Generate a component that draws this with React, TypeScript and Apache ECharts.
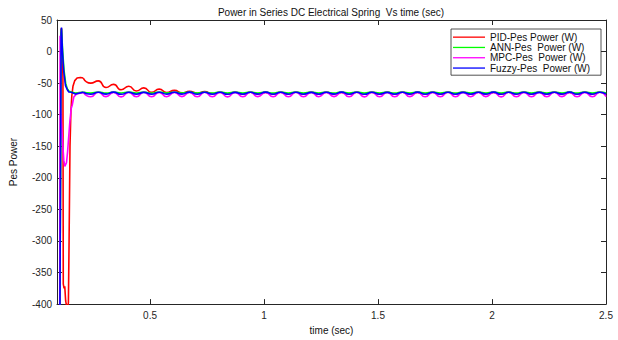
import React, { useEffect, useRef } from "react";
import * as echarts from "echarts";

const seriesNames = ["PID-Pes Power (W)", "ANN-Pes  Power (W)", "MPC-Pes  Power (W)", "Fuzzy-Pes  Power (W)"];
const seriesColors = ["#ff0000", "#00ff00", "#ff00ff", "#0000ff"];
const xTickValues = [0.5, 1, 1.5, 2, 2.5];
const titleText = "Power in Series DC Electrical Spring  Vs time (sec)";

// start-up transients (time in s, power in W)
const pidStartT = [0.1045, 0.11, 0.1117, 0.115, 0.118, 0.1195, 0.123, 0.126, 0.13, 0.134, 0.139, 0.142, 0.145, 0.149, 0.153, 0.157, 0.162, 0.17, 0.18, 0.195, 0.207];
const pidStartV = [-450, 35, 37, 5, -40, -368, -375, -372, -395, -403, -404, -398, -300, -150, -95, -70, -55, -46, -42, -41, -42];
const annStartT = [0.1045, 0.11, 0.1117, 0.117, 0.123, 0.13, 0.137, 0.145, 0.155, 0.173, 0.207];
const annStartV = [-450, 28, 36, 0, -30, -50, -59, -63, -64.2, -65.8, -64.2];
const mpcStartT = [0.1038, 0.1055, 0.1074, 0.1161, 0.1218, 0.1262, 0.1337, 0.1381, 0.1481, 0.1543, 0.1587, 0.1657, 0.1776, 0.207];
const mpcStartV = [-450, 25, -90, -140, -172, -182, -176, -160, -112, -90, -85, -72, -67, -64.6];
const fuzzyStartT = [0.1043, 0.11, 0.1117, 0.1161, 0.1218, 0.1293, 0.1367, 0.1438, 0.155, 0.173, 0.207];
const fuzzyStartV = [-450, 30, 38, -1, -32, -54, -60, -64, -64.4, -67.2, -64.4];

// ripple samples (peaks and troughs) after the transient
const tRipple = [
  0.207, 0.24, 0.273, 0.307, 0.34, 0.373, 0.407, 0.44, 0.473, 0.507,
  0.54, 0.573, 0.607, 0.64, 0.673, 0.707, 0.74, 0.773, 0.807, 0.84,
  0.873, 0.907, 0.94, 0.973, 1.007, 1.04, 1.073, 1.107, 1.14, 1.173,
  1.207, 1.24, 1.273, 1.307, 1.34, 1.373, 1.407, 1.44, 1.473, 1.507,
  1.54, 1.573, 1.607, 1.64, 1.673, 1.707, 1.74, 1.773, 1.807, 1.84,
  1.873, 1.907, 1.94, 1.973, 2.007, 2.04, 2.073, 2.107, 2.14, 2.173,
  2.207, 2.24, 2.273, 2.307, 2.34, 2.373, 2.407, 2.44, 2.473, 2.5,
];
const pidRipple = [
  -42, -50, -46.5, -57, -52, -60.5, -55, -62.5, -57.5, -64.5,
  -59.5, -65, -61.5, -65.5, -63, -66, -63.5, -66.5, -64.5, -67,
  -64.4, -67.1, -64.5, -67, -64.6, -67, -64.5, -67.2, -64.4, -67,
  -64.5, -67.1, -64.5, -67, -64.6, -67, -64.5, -67.1, -64.4, -67,
  -64.5, -67.2, -64.5, -67, -64.6, -67, -64.5, -67.1, -64.4, -67,
  -64.5, -67, -64.5, -67.1, -64.6, -67, -64.5, -67.2, -64.4, -67,
  -64.5, -67.1, -64.5, -67, -64.6, -67, -64.5, -67.1, -64.4, -66.8,
];
const annRipple = [
  -64.2, -65.8, -64.1, -65.9, -64.2, -65.7, -64.3, -65.8, -64.2, -65.9,
  -64.1, -65.8, -64.2, -65.7, -64.3, -65.8, -64.2, -65.9, -64.1, -65.8,
  -64.2, -65.8, -64.3, -65.7, -64.2, -65.9, -64.1, -65.8, -64.2, -65.8,
  -64.3, -65.7, -64.2, -65.9, -64.1, -65.8, -64.2, -65.8, -64.3, -65.7,
  -64.2, -65.9, -64.1, -65.8, -64.2, -65.8, -64.3, -65.7, -64.2, -65.9,
  -64.1, -65.8, -64.2, -65.8, -64.3, -65.7, -64.2, -65.9, -64.1, -65.8,
  -64.2, -65.8, -64.3, -65.7, -64.2, -65.9, -64.1, -65.8, -64.2, -65.6,
];
const mpcRipple = [
  -64.6, -71.6, -64.5, -71.4, -64.7, -71.7, -64.6, -71.5, -64.5, -71.6,
  -64.6, -71.5, -64.7, -71.4, -64.6, -71.6, -64.5, -71.5, -64.6, -71.7,
  -64.6, -71.5, -64.5, -71.4, -64.7, -71.6, -64.6, -71.5, -64.5, -71.6,
  -64.6, -71.5, -64.7, -71.4, -64.6, -71.6, -64.5, -71.7, -64.6, -71.5,
  -64.6, -71.5, -64.5, -71.4, -64.7, -71.6, -64.6, -71.5, -64.5, -71.6,
  -64.6, -71.5, -64.7, -71.4, -64.6, -71.7, -64.5, -71.5, -64.6, -71.6,
  -64.6, -71.5, -64.5, -71.4, -64.7, -71.6, -64.6, -71.5, -64.5, -71.2,
];
const fuzzyRipple = [
  -64.4, -67.6, -64.5, -67.4, -64.3, -67.7, -64.5, -67.5, -64.6, -67.6,
  -64.4, -67.5, -64.5, -67.4, -64.3, -67.6, -64.5, -67.5, -64.4, -67.7,
  -64.6, -67.5, -64.5, -67.4, -64.3, -67.6, -64.5, -67.5, -64.4, -67.6,
  -64.6, -67.5, -64.5, -67.4, -64.3, -67.6, -64.5, -67.7, -64.4, -67.5,
  -64.6, -67.5, -64.5, -67.4, -64.3, -67.6, -64.5, -67.5, -64.4, -67.6,
  -64.6, -67.5, -64.5, -67.4, -64.3, -67.7, -64.5, -67.5, -64.4, -67.6,
  -64.6, -67.5, -64.5, -67.4, -64.3, -67.6, -64.5, -67.5, -64.4, -67.3,
];

const FONT = "'Liberation Sans', Arial, Helvetica, sans-serif";
const AXIS = "#262626";

function pairs(t: number[], v: number[]) {
  return t.map((x, i) => [x, v[i]]);
}

export default function App() {
  const ref = useRef<HTMLDivElement>(null);
  useEffect(() => {
    if (!ref.current) return;
    const chart = echarts.init(ref.current, null, { renderer: "svg" });
    const starts = [
      [pidStartT, pidStartV],
      [annStartT, annStartV],
      [mpcStartT, mpcStartV],
      [fuzzyStartT, fuzzyStartV],
    ];
    const ripples = [pidRipple, annRipple, mpcRipple, fuzzyRipple];
    const series: any[] = [];
    seriesNames.forEach((name, i) => {
      const base = {
        name,
        type: "line",
        symbol: "none",
        showSymbol: false,
        color: seriesColors[i],
        lineStyle: { color: seriesColors[i], width: 1.6 },
        xAxisIndex: 0,
        yAxisIndex: 0,
        z: 2 + i,
        silent: true,
      };
      series.push({ ...base, data: pairs(starts[i][0], starts[i][1]) });
      series.push({ ...base, smooth: 0.6, data: pairs(tRipple, ripples[i]) });
    });
    const tickCommon = { inside: true, length: 5, lineStyle: { color: AXIS, width: 1 } };
    chart.setOption({
      animation: false,
      backgroundColor: "#ffffff",
      grid: { left: 57, right: 12, top: 20, bottom: 31, containLabel: false },
      graphic: [
        {
          type: "text",
          x: 331,
          y: 12,
          style: {
            text: titleText,
            fontSize: 10,
            fontFamily: FONT,
            fill: "#111",
            align: "center",
            verticalAlign: "middle",
          },
        },
      ],
      legend: {
        data: seriesNames,
        orient: "vertical",
        left: 451,
        top: 29,
        padding: [3, 11, 2, 2],
        itemGap: 0,
        itemWidth: 32,
        itemHeight: 1.3,
        icon: "rect",
        backgroundColor: "#ffffff",
        borderColor: AXIS,
        borderWidth: 0.8,
        selectedMode: false,
        textStyle: { fontSize: 10, fontFamily: FONT, color: "#111", lineHeight: 10.3 },
      },
      xAxis: [
        {
          type: "value",
          position: "bottom",
          min: 0.092,
          max: 2.5,
          name: "time (sec)",
          nameLocation: "middle",
          nameGap: 16,
          nameTextStyle: { fontSize: 10, fontFamily: FONT, color: "#111" },
          axisLine: { show: true, onZero: false, lineStyle: { color: AXIS, width: 1 } },
          axisTick: { ...tickCommon, customValues: xTickValues },
          axisLabel: { customValues: xTickValues, fontSize: 10, fontFamily: FONT, color: AXIS, margin: 6 },
          splitLine: { show: false },
        },
        {
          type: "value",
          position: "top",
          min: 0.092,
          max: 2.5,
          axisLine: { show: true, onZero: false, lineStyle: { color: AXIS, width: 1 } },
          axisTick: { ...tickCommon, customValues: xTickValues },
          axisLabel: { show: false },
          splitLine: { show: false },
        },
      ],
      yAxis: [
        {
          type: "value",
          position: "left",
          min: -400,
          max: 50,
          interval: 50,
          name: "Pes Power",
          nameLocation: "middle",
          nameGap: 39,
          nameTextStyle: { fontSize: 10, fontFamily: FONT, color: "#111" },
          axisLine: { show: true, onZero: false, lineStyle: { color: AXIS, width: 1 } },
          axisTick: tickCommon,
          axisLabel: { fontSize: 10, fontFamily: FONT, color: AXIS, margin: 5 },
          splitLine: { show: false },
        },
        {
          type: "value",
          position: "right",
          min: -400,
          max: 50,
          interval: 50,
          axisLine: { show: true, onZero: false, lineStyle: { color: AXIS, width: 1 } },
          axisTick: tickCommon,
          axisLabel: { show: false },
          splitLine: { show: false },
        },
      ],
      series,
    });
    return () => chart.dispose();
  }, []);
  return (
    <div
      ref={ref}
      style={{ position: "absolute", left: 0, top: 0, width: 618, height: 340, background: "#fff" }}
    />
  );
}
